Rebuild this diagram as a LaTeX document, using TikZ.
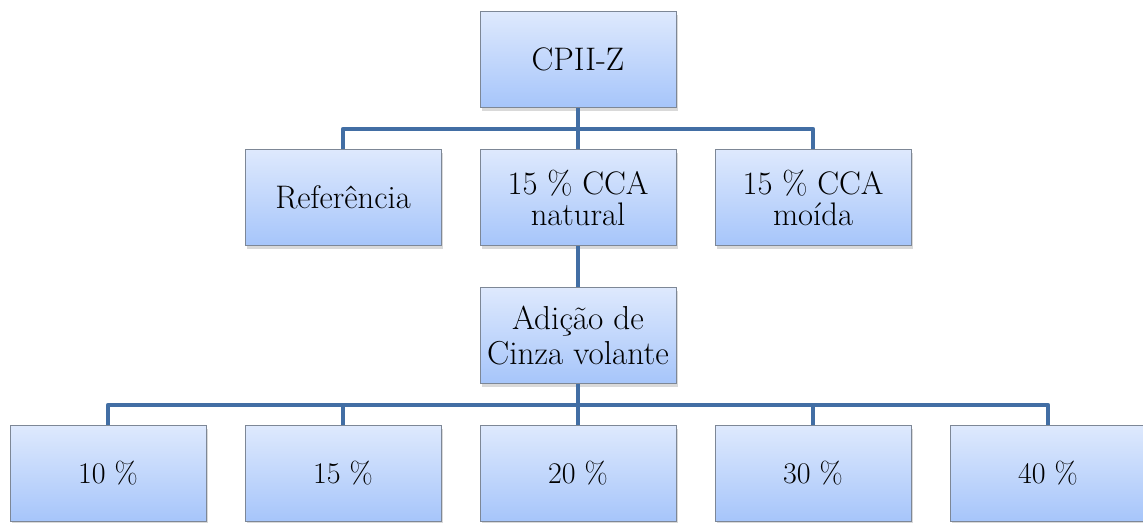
\documentclass[tikz,border=0pt]{standalone}
\usepackage{fontspec}
\usetikzlibrary{positioning,shadows}

\definecolor{linkblue}{RGB}{66,110,164}
\definecolor{boxtop}{RGB}{222,233,253}
\definecolor{boxbot}{RGB}{166,197,250}
\definecolor{boxline}{RGB}{125,135,150}

\begin{document}
\begin{tikzpicture}[node distance=69pt and 117.5pt,on grid,
    box/.style={rectangle,draw=boxline,line width=0.5pt,top color=boxtop,bottom color=boxbot,
      minimum width=98pt,minimum height=48pt,align=center,font=\fontsize{16.3}{15.5}\selectfont,
      drop shadow={opacity=0.3,shadow xshift=0.8pt,shadow yshift=-1.8pt}},
    pct/.style={box,font=\fontsize{15}{15.5}\selectfont},
    link/.style={draw=linkblue,line width=2.3pt,line join=round},
    fork/.style={to path={-- ++(0,-10.5pt) -| (\tikztotarget)}}]
    \useasboundingbox (0,0) rectangle (571.5pt,-261.5pt);
        \node[box] (cpii) at (289pt,-29.75pt) {CPII-Z};
        \node[box] (nat) [below=of cpii] {15 \% CCA\\natural};
        \node[box] (ref) [left=of nat] {Referência};
        \node[box] (moi) [right=of nat] {15 \% CCA\\moída};
        \node[box,font=\fontsize{16.6}{17.5}\selectfont] (adi) [below=of nat] {Adição de\\Cinza volante};
        \node[pct] (p20) [below=of adi] {20 \%};
        \node[pct] (p15) [left=of p20] {15 \%};
        \node[pct] (p10) [left=of p15] {10 \%};
        \node[pct] (p30) [right=of p20] {30 \%};
        \node[pct] (p40) [right=of p30] {40 \%};
        \path[link]
        (cpii.south) edge (nat.north)
        (cpii.south) edge[fork] (ref.north)
        (cpii.south) edge[fork] (moi.north)
        (nat.south) edge (adi.north)
        (adi.south) edge (p20.north)
        (adi.south) edge[fork] (p15.north)
        (adi.south) edge[fork] (p10.north)
        (adi.south) edge[fork] (p30.north)
        (adi.south) edge[fork] (p40.north);
    \end{tikzpicture}
\end{document}
